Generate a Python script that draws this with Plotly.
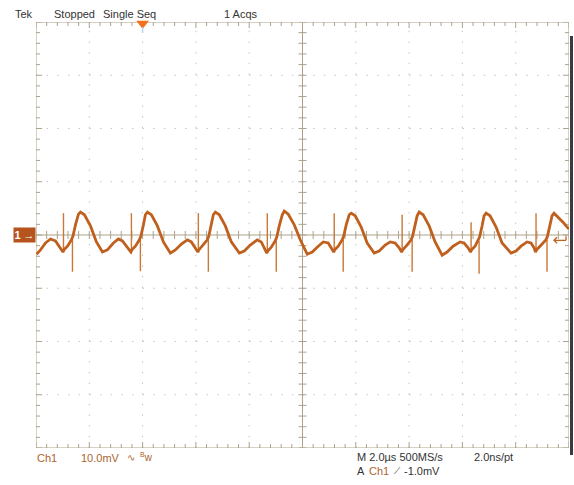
import plotly.graph_objects as go

# ---------------- data (time in µs, voltage in mV) ----------------
t_us = [
    -9.981, -9.831, -9.644, -9.456, -9.269, -9.119, -8.988, -8.950, -8.819, -8.669, -8.613, -8.519, -8.407, -8.332,
    -8.182, -7.957, -7.732, -7.507, -7.320, -7.095, -6.907, -6.757, -6.570, -6.439, -6.401, -6.270, -6.120, -6.064, -5.970, -5.895, -5.820,
    -5.670, -5.445, -5.220, -4.958, -4.770, -4.545, -4.320, -4.171, -4.021, -3.927, -3.889, -3.758, -3.571, -3.515, -3.421, -3.346, -3.271,
    -3.121, -2.896, -2.671, -2.371, -2.184, -1.959, -1.696, -1.546, -1.434, -1.340, -1.303, -1.172, -1.022, -0.965, -0.872, -0.759, -0.684,
    -0.534, -0.309, -0.084, 0.178, 0.366, 0.590, 0.778, 0.965, 1.078, 1.172, 1.209, 1.340, 1.490, 1.546, 1.640, 1.753, 1.828,
    1.978, 2.202, 2.427, 2.690, 2.877, 3.102, 3.290, 3.477, 3.627, 3.721, 3.758, 3.889, 4.077, 4.133, 4.227, 4.302, 4.377,
    4.527, 4.752, 4.977, 5.239, 5.426, 5.651, 5.914, 6.064, 6.214, 6.307, 6.345, 6.476, 6.589, 6.645, 6.738, 6.813, 6.888,
    7.038, 7.263, 7.488, 7.826, 8.013, 8.200, 8.425, 8.575, 8.688, 8.744, 8.782, 8.913, 9.138, 9.194, 9.288, 9.363, 9.438,
    9.588, 9.775, 9.888, 10.000,
]
v_mv = [
    -3.6, -2.8, -1.5, -0.75, -1.1, -2.3, -3.2, -2.8, -2.1, -0.9, -0.2, 1.9, 3.9, 4.3,
    3.8, 1.7, -1.3, -3.2, -2.8, -1.5, -0.75, -1.1, -2.4, -3.2, -2.8, -2.1, -0.9, -0.2, 1.9, 3.8, 4.3,
    3.8, 1.7, -1.3, -3.4, -2.8, -1.7, -0.9, -1.3, -2.4, -3.2, -2.8, -2.1, -0.9, -0.2, 1.9, 3.8, 4.3,
    3.8, 1.7, -1.3, -3.4, -3.0, -1.9, -0.9, -1.3, -2.4, -3.4, -3.0, -2.3, -1.1, -0.4, 1.7, 3.8, 4.5,
    3.9, 1.9, -0.9, -3.6, -3.2, -2.1, -1.3, -1.5, -2.4, -3.2, -2.8, -2.1, -0.9, -0.2, 1.9, 3.8, 4.1,
    3.6, 1.5, -1.5, -3.4, -3.0, -1.9, -1.3, -1.5, -2.4, -3.2, -2.8, -2.1, -0.9, -0.2, 1.9, 3.6, 4.3,
    3.8, 1.7, -1.3, -3.8, -3.2, -2.1, -1.3, -1.5, -2.4, -3.2, -2.8, -2.1, -1.1, -0.4, 1.7, 3.6, 4.1,
    3.6, 1.5, -1.5, -3.4, -3.0, -2.1, -1.3, -1.5, -2.4, -3.2, -2.8, -2.1, -0.9, -0.2, 1.9, 3.6, 4.1,
    3.4, 2.4, 1.7, 1.1,
]

up_spike_t = [-8.969, -6.420, -3.908, -1.321, 1.190, 3.739, 6.326, 8.763]
up_spike_base = [-3.2, -3.2, -3.2, -3.4, -3.2, -3.2, -3.2, -3.2]
up_spike_tip = [4.1, 4.1, 4.1, 4.1, 4.1, 3.8, 2.4, 4.1]

down_spike_t = [-8.632, -6.083, -3.533, -0.984, 1.528, 4.114, 6.626, 9.175]
down_spike_base = [-0.9, -0.9, -0.9, -1.1, -0.9, -0.9, -1.1, -0.9]
down_spike_tip = [-6.9, -6.8, -6.9, -6.9, -6.9, -6.9, -7.3, -6.9]

trigger_time_us = -6.0
trigger_level_mv = -1.0

x_range = [-10, 10]      # 10 divisions x 2.0 µs
y_range = [-40, 40]      # 8 divisions x 10.0 mV
x_div, y_div = 2.0, 10.0

# ---------------- styling ----------------
TRACE = "#c0601e"
SPIKE = "#c87838"
FRAME = "#ada28a"
GRID = "#c4c4c4"
BROWN = "#a9652f"
TXT = "#333333"
FONT = "Liberation Sans, Arial, sans-serif"

W, H = 574, 485
ML, MR, MT, MB = 36, 5, 22, 37
PW, PH = W - ML - MR, H - MT - MB
ux = (x_range[1] - x_range[0]) / PW   # data units per pixel
uy = (y_range[1] - y_range[0]) / PH

fig = go.Figure()

# spikes
sx, sy = [], []
for t, b, tip in zip(up_spike_t, up_spike_base, up_spike_tip):
    sx += [t, t, None]; sy += [b, tip, None]
for t, b, tip in zip(down_spike_t, down_spike_base, down_spike_tip):
    sx += [t, t, None]; sy += [b, tip, None]
fig.add_trace(go.Scatter(x=sx, y=sy, mode="lines", line=dict(color=SPIKE, width=1.4),
                         hoverinfo="skip", showlegend=False))

fig.add_trace(go.Scatter(x=t_us, y=v_mv, mode="lines", line=dict(color=TRACE, width=2.8),
                         showlegend=False))

shapes = []
# dotted graticule
dash = f"1.5px,{PW/50 - 1.5:.2f}px"
for k in range(1, 10):
    t = x_range[0] + k * x_div
    if abs(t) < 1e-9:
        continue
    shapes.append(dict(type="line", xref="x", yref="y", x0=t, x1=t, y0=y_range[0], y1=y_range[1],
                       line=dict(color=GRID, width=1, dash=dash), layer="below"))
for k in range(1, 8):
    v = y_range[0] + k * y_div
    if abs(v) < 1e-9:
        continue
    shapes.append(dict(type="line", xref="x", yref="y", x0=x_range[0], x1=x_range[1], y0=v, y1=v,
                       line=dict(color=GRID, width=1, dash=dash), layer="below"))

# centre cross
shapes.append(dict(type="line", xref="x", yref="y", x0=x_range[0], x1=x_range[1], y0=0, y1=0,
                   line=dict(color=FRAME, width=1), layer="below"))
shapes.append(dict(type="line", xref="x", yref="y", x0=0, x1=0, y0=y_range[0], y1=y_range[1],
                   line=dict(color=FRAME, width=1), layer="below"))

# ticks
path = []
L = 4
for k in range(0, 51):
    t = x_range[0] + k * x_div / 5
    ln = L + (2 if k % 5 == 0 else 0)
    path.append(f"M{t:.4f},{y_range[1]:.4f}L{t:.4f},{y_range[1]-ln*uy:.4f}")
    path.append(f"M{t:.4f},{y_range[0]:.4f}L{t:.4f},{y_range[0]+ln*uy:.4f}")
    path.append(f"M{t:.4f},{-L*uy:.4f}L{t:.4f},{L*uy:.4f}")
for k in range(0, 41):
    v = y_range[0] + k * y_div / 5
    ln = L + (2 if k % 5 == 0 else 0)
    path.append(f"M{x_range[0]:.4f},{v:.4f}L{x_range[0]+ln*ux:.4f},{v:.4f}")
    path.append(f"M{x_range[1]:.4f},{v:.4f}L{x_range[1]-ln*ux:.4f},{v:.4f}")
    path.append(f"M{-L*ux:.4f},{v:.4f}L{L*ux:.4f},{v:.4f}")
shapes.append(dict(type="path", xref="x", yref="y", path="".join(path),
                   line=dict(color=FRAME, width=1), layer="below"))

# frame
shapes.append(dict(type="rect", xref="x", yref="y", x0=x_range[0], x1=x_range[1],
                   y0=y_range[0], y1=y_range[1], line=dict(color=FRAME, width=1), layer="below"))

# trigger-level arrow at right edge
tip_t = x_range[1] - 15 * ux
tail_t = x_range[1] - 3 * ux
shapes.append(dict(type="path", xref="x", yref="y",
                   path=(f"M{tail_t},{trigger_level_mv}L{tip_t},{trigger_level_mv}"
                         f"M{tip_t+3*ux},{trigger_level_mv+3*uy}L{tip_t},{trigger_level_mv}"
                         f"L{tip_t+3*ux},{trigger_level_mv-3*uy}"
                         f"M{tail_t},{trigger_level_mv}L{tail_t},{trigger_level_mv+4*uy}"),
                   line=dict(color=TRACE, width=1.3)))

# trigger position light tick
shapes.append(dict(type="line", xref="x", yref="y", x0=trigger_time_us, x1=trigger_time_us,
                   y0=y_range[1] - 5 * uy, y1=y_range[1] - 11 * uy,
                   line=dict(color="#a8d0ee", width=1.2)))


def px(xp):
    return (xp - ML) / PW


def py(yp):
    return (H - MB - yp) / PH


# dark right edge of screenshot
shapes.append(dict(type="rect", xref="paper", yref="paper",
                   x0=px(570), x1=px(573), y0=py(455), y1=py(36),
                   line=dict(width=0), fillcolor="#3a3a44"))

# trigger position marker
fig.add_trace(go.Scatter(x=[trigger_time_us], y=[y_range[1] - 1.5 * uy], mode="markers",
                         marker=dict(symbol="triangle-down", size=11, color="#f2701e",
                                     line=dict(width=0)),
                         cliponaxis=False, hoverinfo="skip", showlegend=False))

ann = []


def text(s, x, y, color=TXT, size=11, anchor="left"):
    ann.append(dict(text=s, x=px(x), y=py(y), xref="paper", yref="paper", showarrow=False,
                    xanchor=anchor, yanchor="middle", font=dict(family=FONT, size=size, color=color)))


text("Tek", 13, 14)
text("Stopped", 52, 14)
text("Single Seq", 101, 14)
text("1 Acqs", 222, 14)
text("Ch1", 35, 458, BROWN)
text("10.0mV", 79, 458, BROWN)
text("∿", 125, 458, BROWN, 10)
text("<sup>B</sup>w", 138, 457, BROWN, 10)
text("M 2.0µs 500MS/s", 355, 457)
text("2.0ns/pt", 472, 457)
text("A", 355, 471)
text("Ch1", 367, 471, BROWN)
text("⟋", 392, 471, TXT, 9)
text("-1.0mV", 402, 471)

# channel marker box
ann.append(dict(text="<b>1</b> →", x=px(24), y=py(235), xref="paper", yref="paper", showarrow=False,
                xanchor="center", yanchor="middle", width=21, height=14, bgcolor="#b5541c",
                borderpad=0, font=dict(family=FONT, size=11, color="white")))

fig.update_layout(
    width=W, height=H, margin=dict(l=ML, r=MR, t=MT, b=MB),
    paper_bgcolor="white", plot_bgcolor="white",
    xaxis=dict(range=x_range, visible=False, fixedrange=True),
    yaxis=dict(range=y_range, visible=False, fixedrange=True),
    shapes=shapes, annotations=ann, showlegend=False,
)

fig.write_html("out.html", config={"displayModeBar": False},
               post_script="document.body.style.margin='0';document.body.style.overflow='hidden';")
